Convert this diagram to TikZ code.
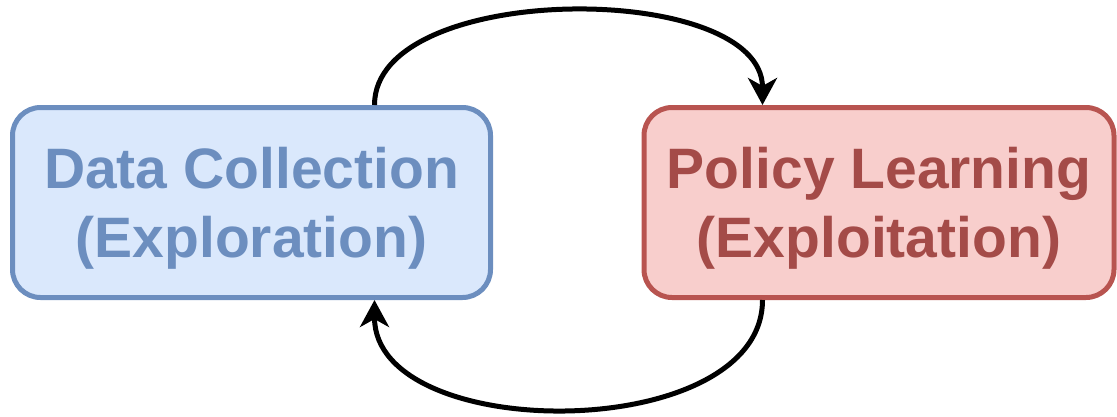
\documentclass[tikz,border=0pt]{standalone}
\usepackage{fontspec}
\setmainfont{Liberation Sans}
\usetikzlibrary{arrows.meta}
\definecolor{bfill}{HTML}{DAE8FC}
\definecolor{bline}{HTML}{6C8EBF}
\definecolor{rfill}{HTML}{F8CECC}
\definecolor{rline}{HTML}{B85450}
\definecolor{rtext}{HTML}{A44B48}
\tikzset{
  procbox/.style={rounded corners=28pt, line width=5pt, minimum height=190pt,
    align=center, inner sep=0pt, text height=110pt, text depth=0pt,
    font=\fontsize{57}{69}\selectfont\bfseries},
  bluebox/.style={procbox, minimum width=478pt, fill=bfill, draw=bline, text=bline},
  redbox/.style={procbox, minimum width=470pt, fill=rfill, draw=rline, text=rtext},
  loop/.style={line width=5pt, -{Stealth[length=27pt, width=29pt, inset=8pt]}}
}
\begin{document}
\begin{tikzpicture}[x=1pt, y=-1pt]
\useasboundingbox (0,0) rectangle (1117,416);
\node[bluebox] (dc) at (251.5,202.5) {Data Collection\\(Exploration)};
\node[redbox] (pl) at (879,202.5) {Policy Learning\\(Exploitation)};
\draw[loop] ([xshift=-118.5pt]dc.north east) .. controls +(0,-125) and +(0,-125) .. ([xshift=121pt]pl.north west);
\draw[loop] ([xshift=121pt]pl.south west) .. controls +(0,145) and +(0,145) .. ([xshift=-118.5pt]dc.south east);
\end{tikzpicture}
\end{document}
